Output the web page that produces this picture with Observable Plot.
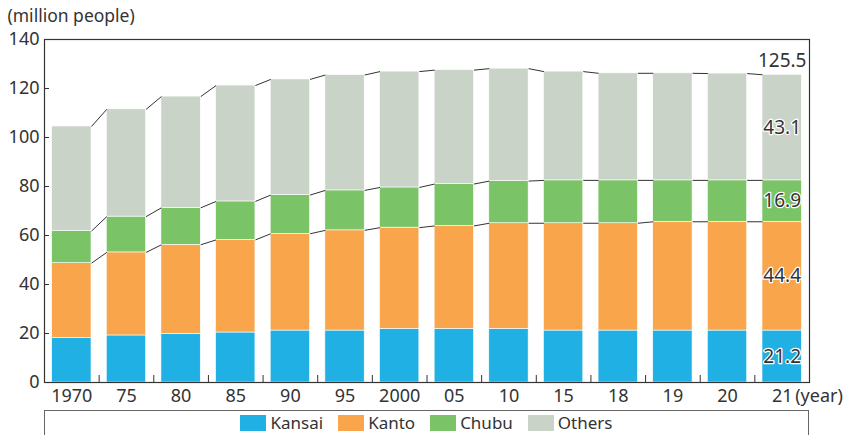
<!DOCTYPE html>
<html>
<head>
<meta charset="utf-8">
<script src="https://cdn.jsdelivr.net/npm/d3@7"></script>
<script src="https://cdn.jsdelivr.net/npm/@observablehq/plot@0.6"></script>
<style>
  body { margin: 0; background: #fff; font-family: "Noto Sans", sans-serif; color: #333; }
  #wrap { width: 843px; height: 435px; overflow: hidden; position: relative; background: #fff; }
  #chart svg { display: block; }
  #legend { margin-left: 44px; margin-top: -1px; width: 765px; height: 40px; box-sizing: border-box; border: 1.5px solid #666;
            display: flex; justify-content: center; align-items: flex-start; padding-top: 3.5px; }
  .item { display: flex; align-items: center; margin: 0 7.5px; font-size: 17px; line-height: 16px; height: 16px; }
  .sw { display: inline-block; width: 26px; height: 16px; margin-right: 4px; }
  .lt { display: inline-block; height: 16px; line-height: 16px; overflow: visible; }
</style>
</head>
<body>
<div id="wrap">
  <div id="chart"></div>
  <div id="legend"></div>
</div>
<script>
const years  = ["1970","75","80","85","90","95","2000","05","10","15","18","19","20","21"];
const kansai = [18.1, 19.2, 19.8, 20.4, 21.2, 21.2, 21.9, 21.9, 21.9, 21.2, 21.2, 21.2, 21.2, 21.2];
const kanto  = [30.6, 33.9, 36.4, 37.8, 39.5, 40.9, 41.3, 42.0, 43.1, 43.8, 43.8, 44.4, 44.4, 44.4];
const chubu  = [13.1, 14.6, 15.1, 15.7, 15.8, 16.3, 16.4, 17.1, 17.2, 17.5, 17.5, 16.9, 16.9, 16.9];
const others = [42.7, 43.8, 45.4, 47.3, 47.2, 47.1, 47.3, 46.5, 45.9, 44.4, 43.7, 43.7, 43.6, 43.1];
const regions = ["Kansai", "Kanto", "Chubu", "Others"];
const colors  = ["#20b0e3", "#f8a54b", "#7ac366", "#cad3c8"];
const yTicks  = [0, 20, 40, 60, 80, 100, 120, 140];
const latestTotal = 125.5;
const unitLabel = "(million people)";
const yearSuffix = "(year)";

const series = [kansai, kanto, chubu, others];
const idx = years.map((_, i) => i);
const last = years.length - 1;
const halfW = 0.36;

const rows = [];
idx.forEach(i => {
  let base = 0;
  series.forEach((s, k) => {
    rows.push({i, region: regions[k], k, y1: base, y2: base + s[i], v: s[i]});
    base += s[i];
  });
});
const topOf = (k, i) => rows.find(r => r.i === i && r.k === k).y2;

const links = [];
[1, 2, 3].forEach(k => {
  idx.slice(0, -1).forEach(i => {
    links.push({x1: i + halfW, x2: i + 1 - halfW, y1: topOf(k, i), y2: topOf(k, i + 1)});
  });
});

const bounds = idx.slice(1).map(i => i - 0.5);
const lastRows = rows.filter(r => r.i === last);

const W = 843, H = 411, mT = 39, mR = 34, mB = 29, mL = 44;
const fw = W - mL - mR, fh = H - mT - mB;

const chart = Plot.plot({
  width: W, height: H,
  marginTop: mT, marginRight: mR, marginBottom: mB, marginLeft: mL,
  style: {fontSize: "18px", fontFamily: "'Noto Sans', sans-serif", color: "#333", background: "white"},
  x: {domain: [-0.5, years.length - 0.5], ticks: idx, tickFormat: i => years[i], tickSize: 0, tickPadding: 6.5, label: null},
  y: {domain: [0, 140], ticks: yTicks, tickSize: 0, tickPadding: 5, label: null},
  color: {domain: regions, range: colors},
  marks: [
    Plot.rectY(rows, {x1: d => d.i - halfW, x2: d => d.i + halfW, y1: "y1", y2: "y2", fill: "region", stroke: "white", strokeWidth: 0.6}),
    Plot.link(links, {x1: "x1", x2: "x2", y1: "y1", y2: "y2", stroke: "#333", strokeWidth: 1}),
    Plot.tickX(bounds, {x: d => d, insetTop: fh - 7, stroke: "#333"}),
    Plot.tickY(yTicks, {y: d => d, insetRight: fw - 5, stroke: "#333"}),
    Plot.frame({stroke: "#333", strokeWidth: 1.2}),
    Plot.text(lastRows, {x: "i", y: d => (d.y1 + d.y2) / 2, text: d => d.v.toFixed(1), fill: "#333", stroke: "white", strokeWidth: 2.5, paintOrder: "stroke", fontSize: 19}),
    Plot.text([latestTotal], {x: () => last, y: () => topOf(3, last), text: d => d.toFixed(1), lineAnchor: "middle", dy: -14, fill: "#333", fontSize: 19}),
    Plot.text([yearSuffix], {x: () => last, frameAnchor: "bottom", text: d => d, textAnchor: "start", lineAnchor: "top", dx: 13, dy: 6.5, fill: "#333"}),
    Plot.text([unitLabel], {frameAnchor: "top-left", text: d => d, textAnchor: "start", lineAnchor: "middle", dx: -37, dy: -23, fill: "#333", fontSize: 17.5})
  ]
});
document.getElementById("chart").appendChild(chart);

const legend = document.getElementById("legend");
regions.forEach((r, k) => {
  const it = document.createElement("div");
  it.className = "item";
  const sw = document.createElement("span");
  sw.className = "sw";
  sw.style.background = colors[k];
  const tx = document.createElement("span");
  tx.className = "lt";
  tx.textContent = r;
  it.appendChild(sw); it.appendChild(tx);
  legend.appendChild(it);
});
</script>
</body>
</html>
